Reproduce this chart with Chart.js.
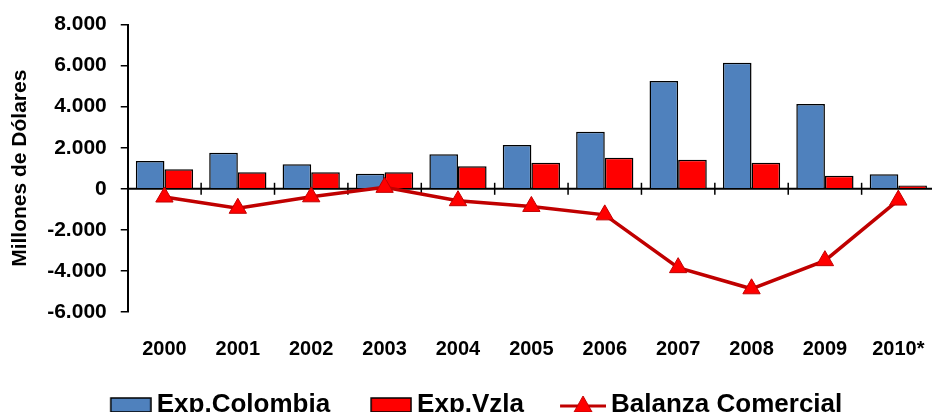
<!DOCTYPE html>
<html>
<head>
<meta charset="utf-8">
<script src="https://cdn.jsdelivr.net/npm/chart.js@4/dist/chart.umd.min.js"></script>
<style>
  html, body { margin: 0; padding: 0; background: #fff; overflow: hidden; }
  #caja { width: 946px; height: 428px; }
</style>
</head>
<body>
<div id="caja"><canvas id="grafico"></canvas></div>
<script>
const anios = ["2000", "2001", "2002", "2003", "2004", "2005", "2006", "2007", "2008", "2009", "2010*"];
const expColombia = [1350, 1750, 1190, 730, 1680, 2130, 2780, 5250, 6140, 4130, 710];
const expVzla = [950, 800, 800, 800, 1100, 1270, 1510, 1410, 1270, 630, 160];
const balanza = [-400, -950, -390, 70, -580, -860, -1270, -3840, -4870, -3500, -550];
const ticksY = [-6000, -4000, -2000, 0, 2000, 4000, 6000, 8000];

const AZUL = "#4F81BD";
const ROJO = "#FF0000";
const ROJO_OSCURO = "#C00000";
const FUENTE = "'Liberation Sans', Arial, sans-serif";

function formatoMiles(v) {
  const s = Math.abs(v).toString().replace(/\B(?=(\d{3})+(?!\d))/g, ".");
  return v < 0 ? "-" + s : s;
}

// los iconos llevan un hueco a la izquierda para separar los items de la leyenda
const ANCHO_CAJA = 44;
const ANCHO_ICONO = 60;

function iconoBarra(color) {
  const c = document.createElement("canvas");
  c.width = ANCHO_ICONO; c.height = 18;
  const ctx = c.getContext("2d");
  const x0 = ANCHO_ICONO - 42;
  ctx.fillStyle = color;
  ctx.fillRect(x0 + 1, 2, 40, 14);
  ctx.strokeStyle = "#000";
  ctx.lineWidth = 1.5;
  ctx.strokeRect(x0 + 1, 2, 40, 14);
  return c;
}

function iconoLinea() {
  const c = document.createElement("canvas");
  c.width = ANCHO_ICONO; c.height = 22;
  const ctx = c.getContext("2d");
  const x0 = ANCHO_ICONO - 46;
  ctx.strokeStyle = ROJO_OSCURO;
  ctx.lineWidth = 3;
  ctx.beginPath();
  ctx.moveTo(x0, 12); ctx.lineTo(x0 + 46, 12);
  ctx.stroke();
  ctx.fillStyle = ROJO;
  ctx.lineWidth = 1;
  ctx.beginPath();
  ctx.moveTo(x0 + 23, 2); ctx.lineTo(x0 + 32, 18); ctx.lineTo(x0 + 14, 18);
  ctx.closePath();
  ctx.fill();
  ctx.stroke();
  return c;
}

const iconos = [iconoBarra(AZUL), iconoBarra(ROJO), iconoLinea()];

// linea del cero con sus marcas entre categorias
const lineaCero = {
  id: "lineaCero",
  beforeDatasetsDraw(chart) {
    const ctx = chart.ctx;
    const x = chart.scales.x;
    const y0 = chart.scales.y.getPixelForValue(0);
    ctx.save();
    ctx.strokeStyle = "#000";
    ctx.lineWidth = 2;
    ctx.beginPath();
    ctx.moveTo(chart.chartArea.left, y0);
    ctx.lineTo(chart.chartArea.right, y0);
    ctx.stroke();
    ctx.lineWidth = 1.5;
    for (let i = 1; i < anios.length; i++) {
      const xm = (x.getPixelForValue(i - 1) + x.getPixelForValue(i)) / 2;
      ctx.beginPath();
      ctx.moveTo(xm, y0 - 6);
      ctx.lineTo(xm, y0 + 6);
      ctx.stroke();
    }
    ctx.restore();
  }
};

new Chart(document.getElementById("grafico"), {
  data: {
    labels: anios,
    datasets: [
      {
        type: "bar",
        label: "Exp.Colombia",
        data: expColombia,
        backgroundColor: AZUL,
        borderColor: "#000",
        borderWidth: 1.5,
        categoryPercentage: 0.78,
        barPercentage: 1.0,
        order: 2
      },
      {
        type: "bar",
        label: "Exp.Vzla",
        data: expVzla,
        backgroundColor: ROJO,
        borderColor: "#000",
        borderWidth: 1.5,
        categoryPercentage: 0.78,
        barPercentage: 1.0,
        order: 3
      },
      {
        type: "line",
        label: "Balanza Comercial",
        data: balanza,
        borderColor: ROJO_OSCURO,
        borderWidth: 3.5,
        pointStyle: "triangle",
        pointRadius: 10,
        pointBackgroundColor: ROJO,
        pointBorderColor: ROJO_OSCURO,
        pointBorderWidth: 1,
        tension: 0,
        order: 1
      }
    ]
  },
  options: {
    responsive: true,
    maintainAspectRatio: false,
    animation: false,
    layout: { padding: { top: 3, right: 4, left: 0, bottom: 0 } },
    scales: {
      x: {
        grid: { display: false },
        border: { display: false },
        ticks: {
          color: "#000",
          padding: 17,
          font: { family: FUENTE, size: 20, weight: "bold" }
        },
        afterFit(scale) {
          scale.height -= 16;
        }
      },
      y: {
        min: -6000,
        max: 8000,
        afterBuildTicks(scale) {
          scale.ticks = ticksY.map((v) => ({ value: v }));
        },
        grid: {
          drawOnChartArea: false,
          drawTicks: true,
          tickLength: 7,
          color: "#000",
          lineWidth: 1.5
        },
        border: { display: true, color: "#000", width: 2 },
        ticks: {
          color: "#000",
          padding: 14,
          font: { family: FUENTE, size: 21, weight: "bold", lineHeight: 1 },
          callback: (v) => formatoMiles(v)
        },
        title: {
          display: true,
          text: "Millones de Dólares",
          color: "#000",
          padding: { top: 8, bottom: 0 },
          font: { family: FUENTE, size: 21, weight: "bold" }
        }
      }
    },
    plugins: {
      tooltip: { enabled: false },
      legend: {
        position: "bottom",
        labels: {
          color: "#000",
          font: { family: FUENTE, size: 26, weight: "bold" },
          usePointStyle: true,
          pointStyleWidth: ANCHO_CAJA,
          boxHeight: 18,
          padding: 30,
          sort: (a, b) => a.datasetIndex - b.datasetIndex,
          generateLabels(chart) {
            const items = Chart.defaults.plugins.legend.labels.generateLabels(chart);
            items.forEach((it) => { it.pointStyle = iconos[it.datasetIndex]; });
            return items;
          }
        }
      }
    }
  },
  plugins: [lineaCero]
});
</script>
</body>
</html>
